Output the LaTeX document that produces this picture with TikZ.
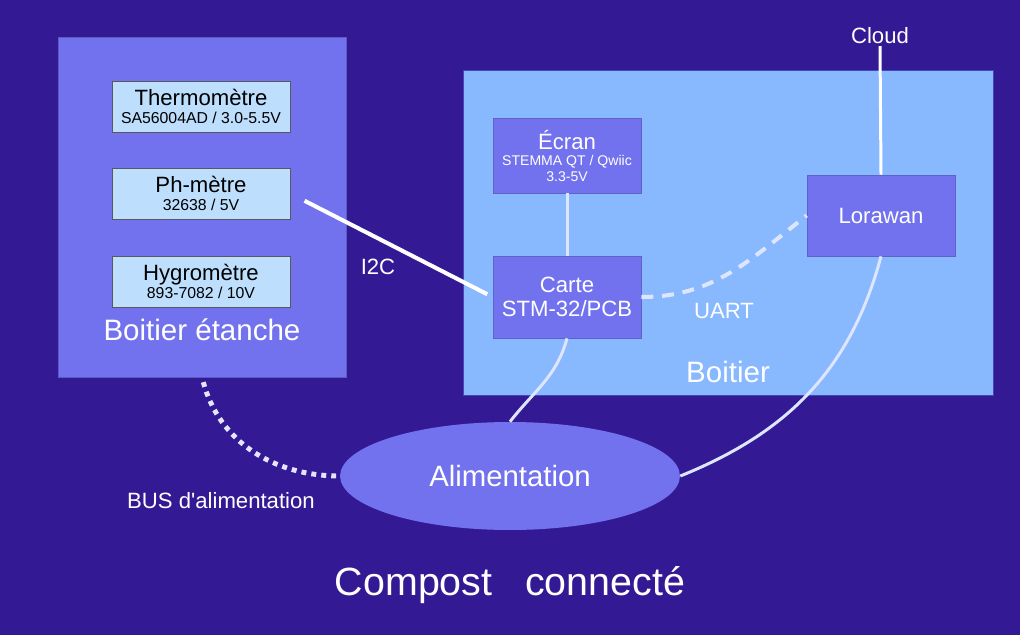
\documentclass[tikz,border=0pt]{standalone}
\usepackage{fontspec}
\setmainfont{Liberation Sans}
\usetikzlibrary{shapes.geometric}

\definecolor{fond}{HTML}{331A94}
\definecolor{violet}{HTML}{7272EE}
\definecolor{ciel}{HTML}{BDDFFD}
\definecolor{bleu}{HTML}{88B8FD}
\definecolor{trait}{HTML}{DDE5FF}

\newcommand{\moyen}{\fontsize{12.6}{13}\selectfont}
\newcommand{\petit}{\fontsize{9}{10}\selectfont}
\newcommand{\mini}{\fontsize{8}{9}\selectfont}
\newcommand{\grand}{\fontsize{16.8}{18}\selectfont}

\begin{document}
\begin{tikzpicture}[x=0.02cm, y=-0.02cm,
    capteur/.style={draw=black!65, fill=ciel, minimum width=3.56cm, minimum height=1.02cm, inner sep=0pt, align=center, font=\moyen},
    module/.style={draw=violet!85!black, fill=violet, text=white, minimum width=2.96cm, inner sep=0pt, align=center, font=\moyen},
    texte/.style={text=white, inner sep=1pt},
    lien/.style={trait, line width=1.7pt}]
    % fond
    \fill[fond] (0,0) rectangle (1020,635);

    % boitier etanche et capteurs
    \node[draw=violet!80!black, fill=violet, minimum width=5.76cm, minimum height=6.8cm, inner sep=0pt] (etanche) at (202,207) {};
    \node[capteur] (thermo) at (201,106.5) {Thermomètre\\[-2.8pt]{\petit SA56004AD / 3.0-5.5V}};
    \node[capteur] (ph) at (201,193.5) {Ph-mètre\\[-2.8pt]{\petit 32638 / 5V}};
    \node[capteur] (hygro) at (201,281.5) {Hygromètre\\[-2.8pt]{\petit 893-7082 / 10V}};
    \node[texte, font=\grand] (netanche) at (202,330) {Boitier étanche};

    % boitier
    \node[draw=blue!45!gray, fill=bleu, minimum width=10.6cm, minimum height=6.5cm, inner sep=0pt] (boitier) at (728,232.5) {};
    \node[module, minimum height=1.5cm] (ecran) at (567,155.5) {Écran\\[-3.4pt]{\mini STEMMA QT / Qwiic}\\[-4.4pt]{\mini 3.3-5V}};
    \node[module, minimum height=1.64cm] (carte) at (567,297) {Carte\\[0.6pt]STM-32/PCB};
    \node[module, minimum height=1.62cm] (lora) at (881,215.5) {Lorawan};
    \node[texte, font=\grand] (nboitier) at (728,372) {Boitier};

    \node[ellipse, fill=violet, minimum width=6.8cm, minimum height=2.16cm, inner sep=0pt, text=white, font=\fontsize{16.7}{18}\selectfont] (alim) at (510,476) {Alimentation};
    \node[texte, font=\moyen] (cloud) at (880,36) {Cloud};

    % liaisons
    \draw[white, line width=1.7pt] (cloud.south) -- (lora.north);
    \draw[lien] (ecran) -- (carte);
    \draw[white, line width=2.3pt, shorten <=0.32cm, shorten >=0.12cm] (ph.east) -- (carte.west);
    \node[texte, font=\moyen] (ni2c) at (378,267) {I2C};
    \draw[lien, line width=2.3pt, dash pattern=on 6.8pt off 5pt] (carte.east) to[out=0, in=218] (lora.west);
    \node[texte, font=\moyen] (nuart) at (724,311) {UART};
    \draw[lien] (carte.south) to[out=-105, in=52] (alim.north);
    \draw[lien] (lora.south) to[out=-105, in=22] (alim.east);
    \draw[white!90!blue, line width=2.8pt, dash pattern=on 2.8pt off 2.9pt, shorten <=0.1cm] (etanche.south) to[out=-75, in=180] (alim.west);
    \node[texte, font=\fontsize{12.6}{14}\selectfont] (nbus) at (221,501) {BUS d\textquotesingle alimentation};

    \node[texte, font=\fontsize{22.4}{24}\selectfont] (titre) at (510,585) {Compost~~~connecté};
\end{tikzpicture}
\end{document}
